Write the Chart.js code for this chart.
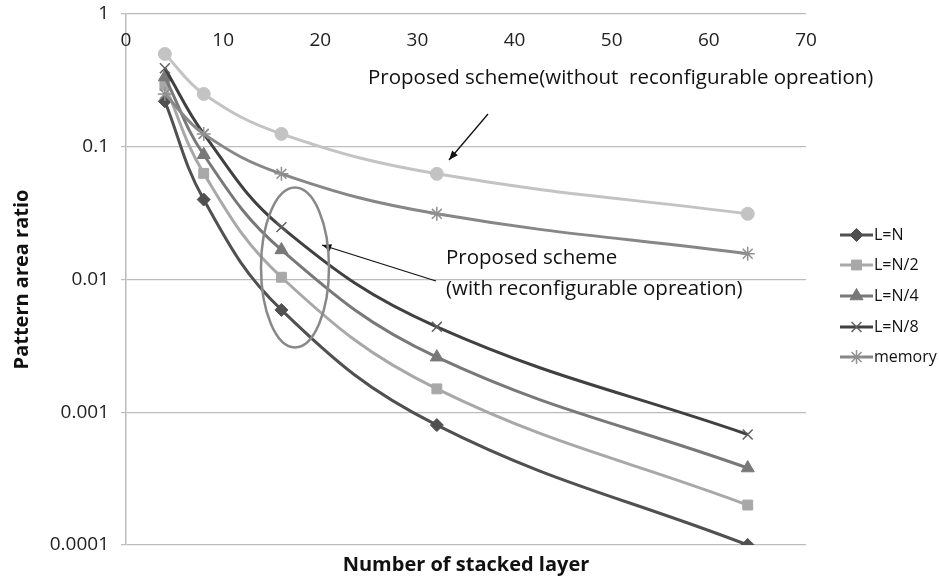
<!DOCTYPE html>
<html>
<head>
<meta charset="utf-8">
<script src="https://cdn.jsdelivr.net/npm/chart.js@4/dist/chart.umd.min.js"></script>
<style>
  html, body { margin: 0; padding: 0; background: #ffffff; }
  #wrap { width: 939px; height: 577px; position: relative; }
</style>
</head>
<body>
<div id="wrap"><canvas id="c" width="939" height="577"></canvas></div>
<script>
// Number of stacked layers
const layers = [4, 8, 16, 32, 64];

// Pattern area ratio per scheme
const withoutReconf = [0.5, 0.25, 0.125, 0.0625, 0.03125];
const lN  = [0.22, 0.04, 0.0059, 0.0008, 0.0001];
const lN2 = [0.29, 0.063, 0.0104, 0.0015, 0.0002];
const lN4 = [0.335, 0.087, 0.0167, 0.0026, 0.00038];
const lN8 = [0.39, 0.125, 0.0248, 0.0044, 0.00068];
const memory = [0.25, 0.125, 0.0625, 0.03125, 0.015625];

// Axis tick labels
const xTickLabels = ['0', '10', '20', '30', '40', '50', '60', '70'];
const yTickValues = [0.0001, 0.001, 0.01, 0.1, 1];
const yTickLabels = ['0.0001', '0.001', '0.01', '0.1', '1'];

const FONT = "'Open Sans', 'DejaVu Sans', sans-serif";

function pts(vals) { return layers.map((x, i) => ({ x: x, y: vals[i] })); }

function series(label, vals, color, style, radius, extra) {
  return Object.assign({
    label: label,
    data: pts(vals),
    borderColor: color,
    backgroundColor: color,
    pointBackgroundColor: color,
    pointBorderColor: color,
    borderWidth: 3,
    pointStyle: style,
    pointRadius: radius,
    pointHoverRadius: radius,
    pointBorderWidth: 1,
    tension: 0.4,
    cubicInterpolationMode: 'default',
    fill: false
  }, extra || {});
}

const datasets = [
  series('L=N', lN, '#505050', 'rectRot', 6.5, { order: 6 }),
  series('L=N/2', lN2, '#a8a8a8', 'rect', 7, { order: 5 }),
  series('L=N/4', lN4, '#787878', 'triangle', 7.5, { order: 4 }),
  series('L=N/8', lN8, '#404040', 'crossRot', 7, { order: 3, pointBorderWidth: 1.5, pointBorderColor: '#606060' }),
  series('memory', memory, '#878787', 'star', 7, { order: 2, pointBorderWidth: 1.5, pointBorderColor: '#909090' }),
  series('without', withoutReconf, '#c3c3c3', 'circle', 6.5, { order: 1 })
];

// Top-side x tick labels, placed from the x scale's own tick values
const topTicks = {
  id: 'topTicks',
  afterDraw(chart) {
    const ctx = chart.ctx, xs = chart.scales.x, top = chart.chartArea.top;
    ctx.save();
    ctx.font = '19px ' + FONT;
    ctx.fillStyle = '#222';
    ctx.textAlign = 'center';
    ctx.textBaseline = 'middle';
    xs.ticks.forEach((t, i) => {
      ctx.fillText(xTickLabels[i], xs.getPixelForValue(t.value), top + 27);
    });
    ctx.restore();
  }
};

// Legend with line + marker swatches on the right
const sideLegend = {
  id: 'sideLegend',
  afterDraw(chart) {
    const ctx = chart.ctx;
    const x0 = 840, x1 = 873, rows = [235, 265, 296, 327, 357];
    ctx.save();
    for (let i = 0; i < 5; i++) {
      const ds = chart.data.datasets[i];
      const y = rows[i];
      ctx.strokeStyle = ds.borderColor;
      ctx.lineWidth = 3;
      ctx.beginPath(); ctx.moveTo(x0, y); ctx.lineTo(x1, y); ctx.stroke();
      ctx.fillStyle = ds.pointBackgroundColor;
      ctx.strokeStyle = ds.pointBorderColor;
      ctx.lineWidth = ds.pointBorderWidth;
      Chart.helpers.drawPoint(ctx, {
        pointStyle: ds.pointStyle, radius: ds.pointRadius, rotation: 0,
        borderWidth: ds.pointBorderWidth
      }, (x0 + x1) / 2, y);
      ctx.fillStyle = '#111';
      ctx.font = '16px ' + FONT;
      ctx.textAlign = 'left';
      ctx.textBaseline = 'middle';
      ctx.fillText(ds.label, x1 + 1, y);
    }
    ctx.restore();
  }
};

function arrow(ctx, x1, y1, x2, y2) {
  ctx.beginPath(); ctx.moveTo(x1, y1); ctx.lineTo(x2, y2); ctx.stroke();
  const a = Math.atan2(y2 - y1, x2 - x1), L = 10, W = 0.38;
  ctx.beginPath();
  ctx.moveTo(x2, y2);
  ctx.lineTo(x2 - L * Math.cos(a - W), y2 - L * Math.sin(a - W));
  ctx.lineTo(x2 - L * Math.cos(a + W), y2 - L * Math.sin(a + W));
  ctx.closePath(); ctx.fill();
}

// Callouts: scheme labels, arrows and the ellipse around the reconfigurable group
const callouts = {
  id: 'callouts',
  afterDraw(chart) {
    const ctx = chart.ctx;
    ctx.save();
    ctx.fillStyle = '#111';
    ctx.font = '20.5px ' + FONT;
    ctx.textAlign = 'left';
    ctx.textBaseline = 'middle';
    ctx.fillText('Proposed scheme(without  reconfigurable opreation)', 368, 78);
    ctx.fillText('Proposed scheme', 446, 258);
    ctx.fillText('(with reconfigurable opreation)', 446, 289);

    ctx.strokeStyle = '#111';
    ctx.fillStyle = '#111';
    ctx.lineWidth = 1.3;
    arrow(ctx, 488, 114, 449, 160);
    arrow(ctx, 436, 281, 322, 245);

    ctx.strokeStyle = '#888';
    ctx.lineWidth = 2.5;
    ctx.beginPath();
    ctx.ellipse(295, 267.5, 34, 80, 0, 0, Math.PI * 2);
    ctx.stroke();
    ctx.restore();
  }
};

new Chart(document.getElementById('c'), {
  type: 'line',
  data: { datasets: datasets },
  options: {
    responsive: false,
    animation: false,
    events: [],
    layout: { padding: { top: 14, right: 133, left: 10, bottom: 0 } },
    plugins: { legend: { display: false }, tooltip: { enabled: false } },
    scales: {
      x: {
        type: 'linear',
        position: 'bottom',
        min: 0, max: 70,
        ticks: { stepSize: 10, display: false },
        grid: { display: false },
        border: { display: false },
        title: {
          display: true,
          text: 'Number of stacked layer',
          font: { family: FONT, size: 20, weight: 'bold' },
          color: '#111',
          padding: { top: 2, bottom: 0 }
        },
        afterFit(s) { s.height = 32; }
      },
      y: {
        type: 'logarithmic',
        min: 0.0001, max: 1,
        afterBuildTicks(s) { s.ticks = yTickValues.map(v => ({ value: v })); },
        ticks: {
          callback: (v, i) => yTickLabels[i],
          font: { family: FONT, size: 19 },
          color: '#222',
          padding: 12
        },
        grid: { color: '#bcbcbc', lineWidth: 1.2, tickLength: 5 },
        border: { color: '#bcbcbc', width: 1.5 },
        title: {
          display: true,
          text: 'Pattern area ratio',
          font: { family: FONT, size: 20, weight: 'bold' },
          color: '#111',
          padding: { top: 0, bottom: 0 }
        },
        afterFit(s) { s.width = 116; s.paddingTop = 0; s.paddingBottom = 0; }
      }
    }
  },
  plugins: [topTicks, sideLegend, callouts]
});
</script>
</body>
</html>
